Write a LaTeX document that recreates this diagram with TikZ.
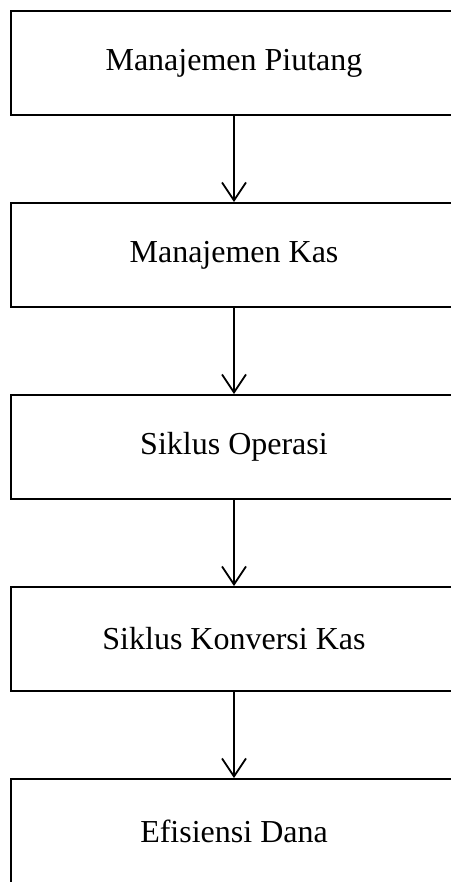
\documentclass[tikz,border=0pt]{standalone}
\usepackage{fontspec}
\setmainfont{Liberation Serif}
\usetikzlibrary{arrows.meta}
\begin{document}
\begin{tikzpicture}[x=1pt, y=1pt, node distance=192pt,
    tahap/.style={draw, line width=1.8pt, minimum width=446pt, minimum height=104pt,
        align=center, inner sep=0pt, font=\fontsize{32}{38}\selectfont},
    panah/.style={line width=1.8pt, -{Straight Barb[length=18pt, width=24pt, line width=1.8pt]}}]
            \useasboundingbox (0,0) rectangle (450,-882);
            \node (piutang) [tahap] at (234,-63) 
            {Manajemen Piutang};
            \node (kas) [tahap, below of=piutang] 
            {Manajemen Kas};
            \node (operasi) [tahap, below of=kas] 
            {Siklus Operasi};
            \node (konversi) [tahap, below of=operasi] 
            {Siklus Konversi Kas};
            \node (efisiensi) [tahap, below of=konversi] 
            {Efisiensi Dana};
        
            \draw [panah] (piutang) -- (kas);
            \draw [panah] (kas) -- (operasi);
            \draw [panah] (operasi) -- (konversi);
            \draw [panah] (konversi) -- (efisiensi);
        \end{tikzpicture}
\end{document}
